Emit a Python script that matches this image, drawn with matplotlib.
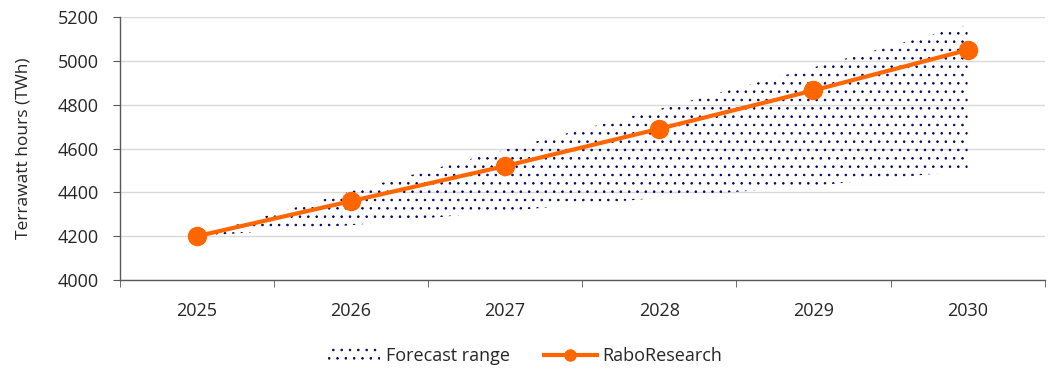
import matplotlib
matplotlib.use("Agg")
import matplotlib.pyplot as plt
from matplotlib.patches import Patch
from matplotlib.lines import Line2D

plt.rcParams['font.family'] = ['Open Sans', 'DejaVu Sans']
plt.rcParams['hatch.linewidth'] = 0.6
plt.rcParams['hatch.color'] = '#000066'

years = ['2025', '2026', '2027', '2028', '2029', '2030']
rabo = [4200, 4360, 4520, 4690, 4865, 5050]
range_low = [4200, 4250, 4315, 4375, 4430, 4500]
range_high = [4200, 4405, 4595, 4780, 4970, 5165]

orange = '#FF6600'
grey_text = '#262626'

fig = plt.figure(figsize=(10.5, 3.69), dpi=100)
ax = fig.add_axes([0.114, 0.241, 0.881, 0.713])

x = list(range(len(years)))
ax.fill_between(x, range_low, range_high, facecolor='none', edgecolor='#000066',
                hatch='..', linewidth=0, zorder=2)
ax.plot(x, rabo, color=orange, lw=3, marker='o', ms=13, zorder=3)

ax.set_xlim(-0.5, len(years) - 0.5)
ax.set_ylim(4000, 5200)
ax.set_yticks(range(4000, 5201, 200))
ax.set_xticks(x)
ax.set_xticklabels(years)
ax.set_xticks([i - 0.5 for i in range(len(years) + 1)], minor=True)
ax.tick_params(axis='x', which='major', length=0, pad=16, labelsize=13, labelcolor=grey_text)
ax.tick_params(axis='x', which='minor', length=5, color='#595959', direction='out')
ax.tick_params(axis='y', length=5, color='#595959', labelsize=13, labelcolor=grey_text, pad=10)

ax.grid(axis='y', color='#d9d9d9', lw=1, zorder=0)
ax.set_axisbelow(True)
for s in ['top', 'right']:
    ax.spines[s].set_visible(False)
for s in ['left', 'bottom']:
    ax.spines[s].set_color('#595959')
    ax.spines[s].set_linewidth(1)

ax.set_ylabel('Terrawatt hours (TWh)', fontsize=12.5, color=grey_text, labelpad=19)

handles = [
    Patch(facecolor='none', edgecolor='#000066', hatch='..', linewidth=0, label='Forecast range'),
    Line2D([0], [0], color=orange, lw=3, marker='o', ms=8, label='RaboResearch'),
]
fig.legend(handles=handles, loc='center', bbox_to_anchor=(0.5, 0.035), ncol=2,
           frameon=False, fontsize=13, handlelength=2.9, columnspacing=1.9,
           handletextpad=0.3, labelcolor=grey_text)

fig.savefig('out.png', dpi=100)
